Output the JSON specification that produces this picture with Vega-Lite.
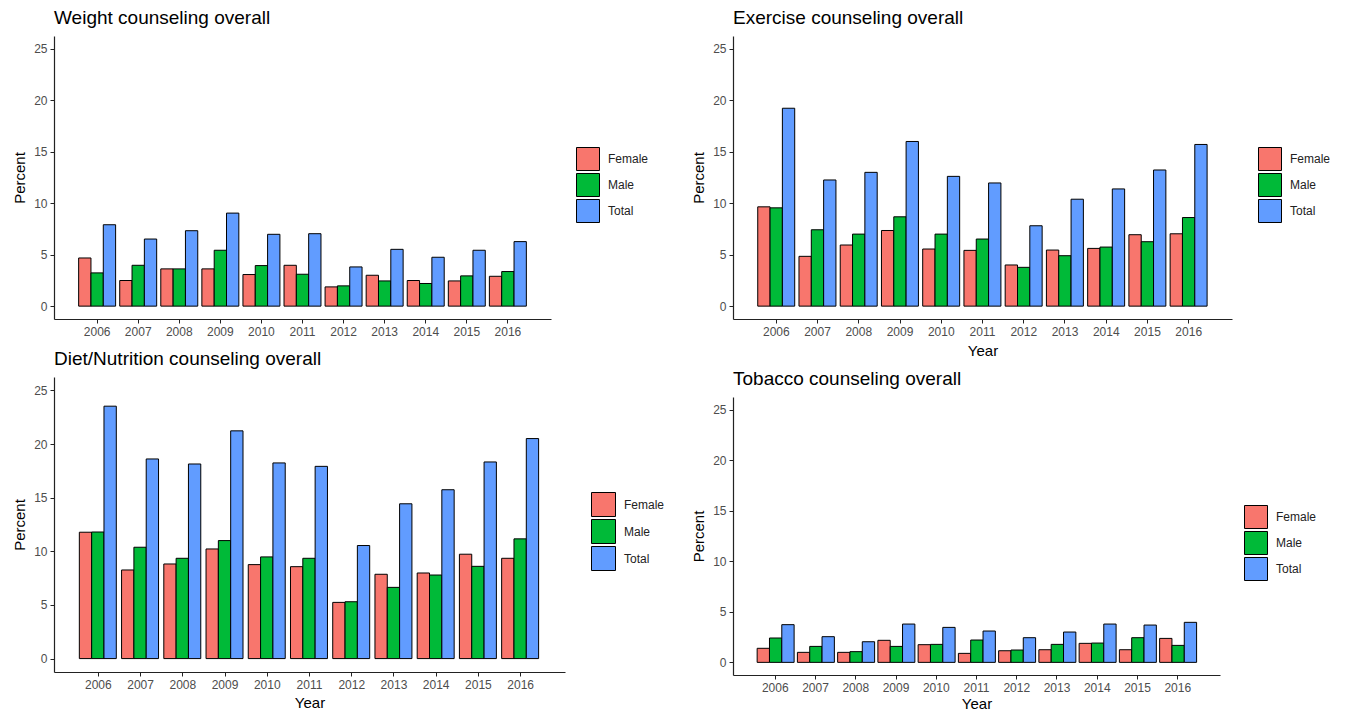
{
  "$schema": "https://vega.github.io/schema/vega-lite/v6.json",
  "padding": {"left": 12, "top": 9, "right": 0, "bottom": 0},
  "background": "white",
  "datasets": {
    "counsel": [
      {"topic": "Weight", "year": "2006", "group": "Female", "pct": 4.68},
      {"topic": "Weight", "year": "2006", "group": "Male", "pct": 3.23},
      {"topic": "Weight", "year": "2006", "group": "Total", "pct": 7.91},
      {"topic": "Weight", "year": "2007", "group": "Female", "pct": 2.49},
      {"topic": "Weight", "year": "2007", "group": "Male", "pct": 3.97},
      {"topic": "Weight", "year": "2007", "group": "Total", "pct": 6.52},
      {"topic": "Weight", "year": "2008", "group": "Female", "pct": 3.62},
      {"topic": "Weight", "year": "2008", "group": "Male", "pct": 3.62},
      {"topic": "Weight", "year": "2008", "group": "Total", "pct": 7.33},
      {"topic": "Weight", "year": "2009", "group": "Female", "pct": 3.62},
      {"topic": "Weight", "year": "2009", "group": "Male", "pct": 5.43},
      {"topic": "Weight", "year": "2009", "group": "Total", "pct": 9.04},
      {"topic": "Weight", "year": "2010", "group": "Female", "pct": 3.07},
      {"topic": "Weight", "year": "2010", "group": "Male", "pct": 3.94},
      {"topic": "Weight", "year": "2010", "group": "Total", "pct": 6.98},
      {"topic": "Weight", "year": "2011", "group": "Female", "pct": 3.97},
      {"topic": "Weight", "year": "2011", "group": "Male", "pct": 3.1},
      {"topic": "Weight", "year": "2011", "group": "Total", "pct": 7.04},
      {"topic": "Weight", "year": "2012", "group": "Female", "pct": 1.87},
      {"topic": "Weight", "year": "2012", "group": "Male", "pct": 1.97},
      {"topic": "Weight", "year": "2012", "group": "Total", "pct": 3.81},
      {"topic": "Weight", "year": "2013", "group": "Female", "pct": 3.0},
      {"topic": "Weight", "year": "2013", "group": "Male", "pct": 2.45},
      {"topic": "Weight", "year": "2013", "group": "Total", "pct": 5.52},
      {"topic": "Weight", "year": "2014", "group": "Female", "pct": 2.49},
      {"topic": "Weight", "year": "2014", "group": "Male", "pct": 2.2},
      {"topic": "Weight", "year": "2014", "group": "Total", "pct": 4.75},
      {"topic": "Weight", "year": "2015", "group": "Female", "pct": 2.45},
      {"topic": "Weight", "year": "2015", "group": "Male", "pct": 2.94},
      {"topic": "Weight", "year": "2015", "group": "Total", "pct": 5.43},
      {"topic": "Weight", "year": "2016", "group": "Female", "pct": 2.9},
      {"topic": "Weight", "year": "2016", "group": "Male", "pct": 3.36},
      {"topic": "Weight", "year": "2016", "group": "Total", "pct": 6.27},

      {"topic": "Exercise", "year": "2006", "group": "Female", "pct": 9.65},
      {"topic": "Exercise", "year": "2006", "group": "Male", "pct": 9.55},
      {"topic": "Exercise", "year": "2006", "group": "Total", "pct": 19.23},
      {"topic": "Exercise", "year": "2007", "group": "Female", "pct": 4.84},
      {"topic": "Exercise", "year": "2007", "group": "Male", "pct": 7.42},
      {"topic": "Exercise", "year": "2007", "group": "Total", "pct": 12.26},
      {"topic": "Exercise", "year": "2008", "group": "Female", "pct": 5.94},
      {"topic": "Exercise", "year": "2008", "group": "Male", "pct": 7.0},
      {"topic": "Exercise", "year": "2008", "group": "Total", "pct": 13.0},
      {"topic": "Exercise", "year": "2009", "group": "Female", "pct": 7.35},
      {"topic": "Exercise", "year": "2009", "group": "Male", "pct": 8.68},
      {"topic": "Exercise", "year": "2009", "group": "Total", "pct": 16.0},
      {"topic": "Exercise", "year": "2010", "group": "Female", "pct": 5.55},
      {"topic": "Exercise", "year": "2010", "group": "Male", "pct": 7.0},
      {"topic": "Exercise", "year": "2010", "group": "Total", "pct": 12.61},
      {"topic": "Exercise", "year": "2011", "group": "Female", "pct": 5.42},
      {"topic": "Exercise", "year": "2011", "group": "Male", "pct": 6.52},
      {"topic": "Exercise", "year": "2011", "group": "Total", "pct": 11.97},
      {"topic": "Exercise", "year": "2012", "group": "Female", "pct": 4.0},
      {"topic": "Exercise", "year": "2012", "group": "Male", "pct": 3.77},
      {"topic": "Exercise", "year": "2012", "group": "Total", "pct": 7.81},
      {"topic": "Exercise", "year": "2013", "group": "Female", "pct": 5.45},
      {"topic": "Exercise", "year": "2013", "group": "Male", "pct": 4.9},
      {"topic": "Exercise", "year": "2013", "group": "Total", "pct": 10.39},
      {"topic": "Exercise", "year": "2014", "group": "Female", "pct": 5.61},
      {"topic": "Exercise", "year": "2014", "group": "Male", "pct": 5.74},
      {"topic": "Exercise", "year": "2014", "group": "Total", "pct": 11.39},
      {"topic": "Exercise", "year": "2015", "group": "Female", "pct": 6.94},
      {"topic": "Exercise", "year": "2015", "group": "Male", "pct": 6.26},
      {"topic": "Exercise", "year": "2015", "group": "Total", "pct": 13.23},
      {"topic": "Exercise", "year": "2016", "group": "Female", "pct": 7.03},
      {"topic": "Exercise", "year": "2016", "group": "Male", "pct": 8.61},
      {"topic": "Exercise", "year": "2016", "group": "Total", "pct": 15.71},

      {"topic": "Diet", "year": "2006", "group": "Female", "pct": 11.78},
      {"topic": "Diet", "year": "2006", "group": "Male", "pct": 11.8},
      {"topic": "Diet", "year": "2006", "group": "Total", "pct": 23.53},
      {"topic": "Diet", "year": "2007", "group": "Female", "pct": 8.26},
      {"topic": "Diet", "year": "2007", "group": "Male", "pct": 10.38},
      {"topic": "Diet", "year": "2007", "group": "Total", "pct": 18.61},
      {"topic": "Diet", "year": "2008", "group": "Female", "pct": 8.82},
      {"topic": "Diet", "year": "2008", "group": "Male", "pct": 9.35},
      {"topic": "Diet", "year": "2008", "group": "Total", "pct": 18.14},
      {"topic": "Diet", "year": "2009", "group": "Female", "pct": 10.22},
      {"topic": "Diet", "year": "2009", "group": "Male", "pct": 11.0},
      {"topic": "Diet", "year": "2009", "group": "Total", "pct": 21.23},
      {"topic": "Diet", "year": "2010", "group": "Female", "pct": 8.76},
      {"topic": "Diet", "year": "2010", "group": "Male", "pct": 9.48},
      {"topic": "Diet", "year": "2010", "group": "Total", "pct": 18.24},
      {"topic": "Diet", "year": "2011", "group": "Female", "pct": 8.57},
      {"topic": "Diet", "year": "2011", "group": "Male", "pct": 9.35},
      {"topic": "Diet", "year": "2011", "group": "Total", "pct": 17.92},
      {"topic": "Diet", "year": "2012", "group": "Female", "pct": 5.24},
      {"topic": "Diet", "year": "2012", "group": "Male", "pct": 5.3},
      {"topic": "Diet", "year": "2012", "group": "Total", "pct": 10.54},
      {"topic": "Diet", "year": "2013", "group": "Female", "pct": 7.86},
      {"topic": "Diet", "year": "2013", "group": "Male", "pct": 6.64},
      {"topic": "Diet", "year": "2013", "group": "Total", "pct": 14.43},
      {"topic": "Diet", "year": "2014", "group": "Female", "pct": 7.98},
      {"topic": "Diet", "year": "2014", "group": "Male", "pct": 7.79},
      {"topic": "Diet", "year": "2014", "group": "Total", "pct": 15.74},
      {"topic": "Diet", "year": "2015", "group": "Female", "pct": 9.73},
      {"topic": "Diet", "year": "2015", "group": "Male", "pct": 8.6},
      {"topic": "Diet", "year": "2015", "group": "Total", "pct": 18.33},
      {"topic": "Diet", "year": "2016", "group": "Female", "pct": 9.35},
      {"topic": "Diet", "year": "2016", "group": "Male", "pct": 11.16},
      {"topic": "Diet", "year": "2016", "group": "Total", "pct": 20.51},

      {"topic": "Tobacco", "year": "2006", "group": "Female", "pct": 1.39},
      {"topic": "Tobacco", "year": "2006", "group": "Male", "pct": 2.41},
      {"topic": "Tobacco", "year": "2006", "group": "Total", "pct": 3.73},
      {"topic": "Tobacco", "year": "2007", "group": "Female", "pct": 0.99},
      {"topic": "Tobacco", "year": "2007", "group": "Male", "pct": 1.58},
      {"topic": "Tobacco", "year": "2007", "group": "Total", "pct": 2.54},
      {"topic": "Tobacco", "year": "2008", "group": "Female", "pct": 0.99},
      {"topic": "Tobacco", "year": "2008", "group": "Male", "pct": 1.06},
      {"topic": "Tobacco", "year": "2008", "group": "Total", "pct": 2.04},
      {"topic": "Tobacco", "year": "2009", "group": "Female", "pct": 2.18},
      {"topic": "Tobacco", "year": "2009", "group": "Male", "pct": 1.58},
      {"topic": "Tobacco", "year": "2009", "group": "Total", "pct": 3.79},
      {"topic": "Tobacco", "year": "2010", "group": "Female", "pct": 1.75},
      {"topic": "Tobacco", "year": "2010", "group": "Male", "pct": 1.78},
      {"topic": "Tobacco", "year": "2010", "group": "Total", "pct": 3.46},
      {"topic": "Tobacco", "year": "2011", "group": "Female", "pct": 0.89},
      {"topic": "Tobacco", "year": "2011", "group": "Male", "pct": 2.21},
      {"topic": "Tobacco", "year": "2011", "group": "Total", "pct": 3.1},
      {"topic": "Tobacco", "year": "2012", "group": "Female", "pct": 1.15},
      {"topic": "Tobacco", "year": "2012", "group": "Male", "pct": 1.22},
      {"topic": "Tobacco", "year": "2012", "group": "Total", "pct": 2.44},
      {"topic": "Tobacco", "year": "2013", "group": "Female", "pct": 1.25},
      {"topic": "Tobacco", "year": "2013", "group": "Male", "pct": 1.78},
      {"topic": "Tobacco", "year": "2013", "group": "Total", "pct": 3.0},
      {"topic": "Tobacco", "year": "2014", "group": "Female", "pct": 1.88},
      {"topic": "Tobacco", "year": "2014", "group": "Male", "pct": 1.91},
      {"topic": "Tobacco", "year": "2014", "group": "Total", "pct": 3.79},
      {"topic": "Tobacco", "year": "2015", "group": "Female", "pct": 1.25},
      {"topic": "Tobacco", "year": "2015", "group": "Male", "pct": 2.44},
      {"topic": "Tobacco", "year": "2015", "group": "Total", "pct": 3.69},
      {"topic": "Tobacco", "year": "2016", "group": "Female", "pct": 2.37},
      {"topic": "Tobacco", "year": "2016", "group": "Male", "pct": 1.68},
      {"topic": "Tobacco", "year": "2016", "group": "Total", "pct": 3.96}
    ]
  },
  "data": {"name": "counsel"},
  "resolve": {"scale": {"color": "independent", "x": "independent", "y": "independent"}, "legend": {"color": "independent"}},
  "spacing": 26,
  "hconcat": [
    {
      "spacing": 13,
      "resolve": {"scale": {"color": "independent", "x": "independent", "y": "independent"}, "legend": {"color": "independent"}},
      "vconcat": [
        {
          "title": "Weight counseling overall",
          "width": 497,
          "height": 283,
          "transform": [{"filter": "datum.topic === 'Weight'"}],
          "mark": {"type": "bar", "stroke": "black", "strokeWidth": 1},
          "encoding": {
            "x": {"field": "year", "type": "ordinal", "scale": {"paddingInner": 0.1, "paddingOuter": 0.6}, "axis": {"labelAngle": 0, "title": null}},
            "xOffset": {"field": "group", "type": "nominal", "scale": {"paddingInner": 0, "paddingOuter": 0}},
            "y": {"field": "pct", "type": "quantitative", "scale": {"domain": [-1.25, 26.25], "nice": false, "zero": false}, "axis": {"values": [0, 5, 10, 15, 20, 25], "title": "Percent"}},
            "y2": {"datum": 0},
            "color": {"field": "group", "type": "nominal", "scale": {"domain": ["Female", "Male", "Total"], "range": ["#F8766D", "#00BA38", "#619CFF"]}, "legend": {"orient": "none", "legendX": 522, "legendY": 111, "title": null}}
          }
        },
        {
          "title": "Diet/Nutrition counseling overall",
          "width": 511,
          "height": 295,
          "transform": [{"filter": "datum.topic === 'Diet'"}],
          "mark": {"type": "bar", "stroke": "black", "strokeWidth": 1},
          "encoding": {
            "x": {"field": "year", "type": "ordinal", "scale": {"paddingInner": 0.1, "paddingOuter": 0.6}, "axis": {"labelAngle": 0, "title": "Year", "titlePadding": 5}},
            "xOffset": {"field": "group", "type": "nominal", "scale": {"paddingInner": 0, "paddingOuter": 0}},
            "y": {"field": "pct", "type": "quantitative", "scale": {"domain": [-1.25, 26.25], "nice": false, "zero": false}, "axis": {"values": [0, 5, 10, 15, 20, 25], "title": "Percent"}},
            "y2": {"datum": 0},
            "color": {"field": "group", "type": "nominal", "scale": {"domain": ["Female", "Male", "Total"], "range": ["#F8766D", "#00BA38", "#619CFF"]}, "legend": {"orient": "none", "legendX": 537, "legendY": 115, "title": null, "symbolSize": 576}}
          }
        }
      ]
    },
    {
      "spacing": 12,
      "resolve": {"scale": {"color": "independent", "x": "independent", "y": "independent"}, "legend": {"color": "independent"}},
      "vconcat": [
        {
          "title": "Exercise counseling overall",
          "width": 499,
          "height": 283,
          "transform": [{"filter": "datum.topic === 'Exercise'"}],
          "mark": {"type": "bar", "stroke": "black", "strokeWidth": 1},
          "encoding": {
            "x": {"field": "year", "type": "ordinal", "scale": {"paddingInner": 0.1, "paddingOuter": 0.6}, "axis": {"labelAngle": 0, "title": "Year"}},
            "xOffset": {"field": "group", "type": "nominal", "scale": {"paddingInner": 0, "paddingOuter": 0}},
            "y": {"field": "pct", "type": "quantitative", "scale": {"domain": [-1.25, 26.25], "nice": false, "zero": false}, "axis": {"values": [0, 5, 10, 15, 20, 25], "title": "Percent"}},
            "y2": {"datum": 0},
            "color": {"field": "group", "type": "nominal", "scale": {"domain": ["Female", "Male", "Total"], "range": ["#F8766D", "#00BA38", "#619CFF"]}, "legend": {"orient": "none", "legendX": 525, "legendY": 111, "title": null}}
          }
        },
        {
          "title": "Tobacco counseling overall",
          "width": 487,
          "height": 278,
          "transform": [{"filter": "datum.topic === 'Tobacco'"}],
          "mark": {"type": "bar", "stroke": "black", "strokeWidth": 1},
          "encoding": {
            "x": {"field": "year", "type": "ordinal", "scale": {"paddingInner": 0.1, "paddingOuter": 0.6}, "axis": {"labelAngle": 0, "title": "Year", "titlePadding": 3}},
            "xOffset": {"field": "group", "type": "nominal", "scale": {"paddingInner": 0, "paddingOuter": 0}},
            "y": {"field": "pct", "type": "quantitative", "scale": {"domain": [-1.25, 26.25], "nice": false, "zero": false}, "axis": {"values": [0, 5, 10, 15, 20, 25], "title": "Percent"}},
            "y2": {"datum": 0},
            "color": {"field": "group", "type": "nominal", "scale": {"domain": ["Female", "Male", "Total"], "range": ["#F8766D", "#00BA38", "#619CFF"]}, "legend": {"orient": "none", "legendX": 511, "legendY": 108, "title": null}}
          }
        }
      ]
    }
  ],
  "config": {
    "font": "Liberation Sans",
    "view": {"stroke": null},
    "axis": {
      "grid": false,
      "domainColor": "#222222",
      "domainWidth": 1.2,
      "tickColor": "#222222",
      "tickWidth": 1,
      "tickSize": 4,
      "labelPadding": 3,
      "labelFontSize": 12,
      "labelColor": "#4d4d4d",
      "titleFontSize": 15,
      "titleFontWeight": "normal",
      "titleColor": "#000000",
      "titlePadding": 6
    },
    "title": {"fontSize": 19, "fontWeight": "normal", "anchor": "start", "frame": "group", "color": "#000000", "offset": 8},
    "legend": {
      "symbolType": "square",
      "symbolSize": 529,
      "symbolStrokeColor": "black",
      "symbolStrokeWidth": 1,
      "symbolOpacity": 1,
      "labelFontSize": 12,
      "labelColor": "#222222",
      "labelOffset": 8,
      "rowPadding": -6,
      "padding": 0
    }
  }
}
